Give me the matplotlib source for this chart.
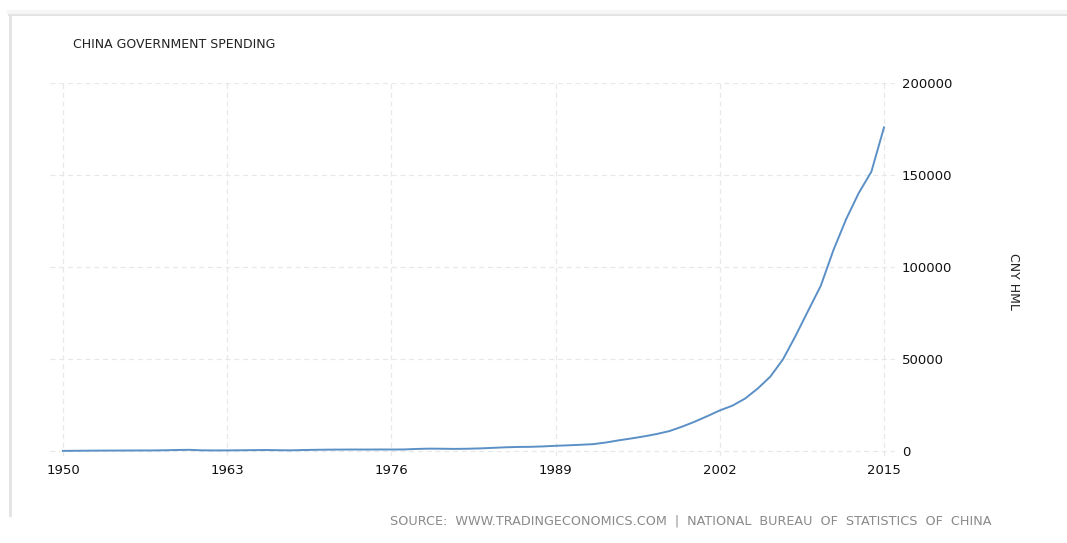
import numpy as np
import matplotlib
matplotlib.use("Agg")
from matplotlib import pyplot as plt
from matplotlib.lines import Line2D

years = list(range(1950, 2016))
spending = [68, 122, 172, 220, 245, 262, 298, 296, 400, 543,
            643, 367, 305, 339, 399, 466, 537, 439, 357, 525,
            649, 732, 766, 809, 790, 821, 806, 843, 1122, 1282,
            1229, 1138, 1230, 1410, 1701, 2004, 2205, 2262, 2491, 2824,
            3084, 3387, 3742, 4642, 5793, 6824, 7938, 9234, 10798, 13188,
            15887, 18903, 22053, 24650, 28487, 33930, 40423, 49781, 62593, 76300,
            89874, 109248, 125953, 140212, 151786, 175878]
x_ticks = [1950, 1963, 1976, 1989, 2002, 2015]
y_ticks = [0, 50000, 100000, 150000, 200000]

W, H = 1067, 543
fig = plt.figure(figsize=(W / 100, H / 100), dpi=100)

# screenshot frame
fig.add_artist(Line2D([9.5 / W, 9.5 / W], [1 - 12 / H, 1 - 515 / H], color="#e4e4e4", lw=2.2))
fig.add_artist(Line2D([9 / W, 1], [1 - 15 / H, 1 - 15 / H], color="#e2e2e2", lw=1.4))
fig.add_artist(Line2D([9 / W, 1], [1 - 12 / H, 1 - 12 / H], color="#f6f6f6", lw=3))

left, right, top, bottom = 50, 895, 83, 456
ax = fig.add_axes([left / W, 1 - bottom / H, (right - left) / W, (bottom - top) / H])

px_per_year = (884 - 63) / 65
ax.set_xlim(1950 - (63 - left) / px_per_year, 2015 + (right - 884) / px_per_year)
px_per_val = (451 - 83) / 200000
ax.set_ylim(-(bottom - 451) / px_per_val, 200000)

ax.plot(years, spending, color="#5b90c6", lw=1.4)

ax.set_xticks(x_ticks)
ax.set_yticks(y_ticks)
ax.grid(True, color="#e8e8e8", linestyle=(0, (4, 3)), lw=0.9)
for s in ax.spines.values():
    s.set_visible(False)
ax.yaxis.tick_right()
ax.tick_params(length=0, labelsize=9.5, colors="#111111")
ax.tick_params(axis="x", pad=6)
ax.tick_params(axis="y", pad=5)

fig.text(73 / W, 1 - 44 / H, "CHINA GOVERNMENT SPENDING", fontsize=9, color="#222222", va="center")
fig.text(1013 / W, 1 - 281 / H, "CNY HML", fontsize=9, color="#222222", rotation=-90,
         ha="center", va="center")
fig.text(992 / W, 1 - 521 / H,
         "SOURCE:  WWW.TRADINGECONOMICS.COM  |  NATIONAL  BUREAU  OF  STATISTICS  OF  CHINA",
         fontsize=9.2, color="#8a8a8a", ha="right", va="center")

fig.savefig("out.png", dpi=100)
